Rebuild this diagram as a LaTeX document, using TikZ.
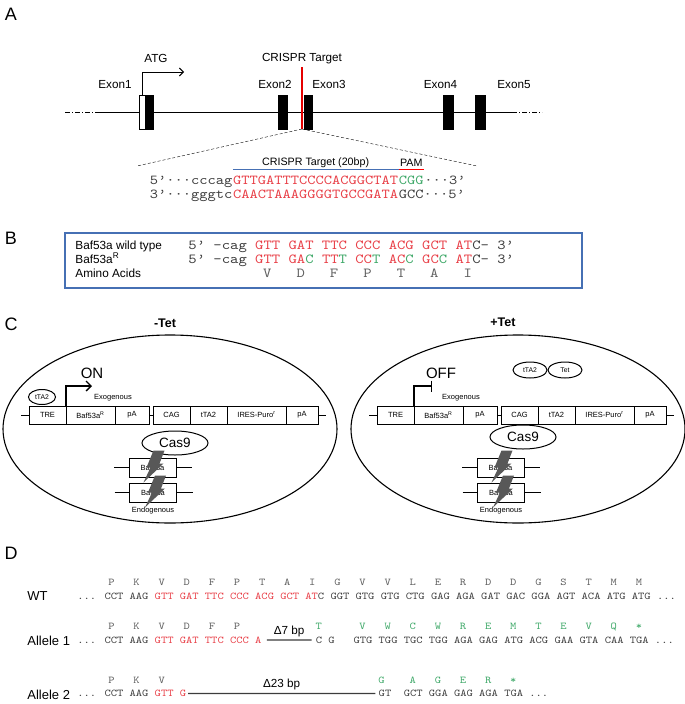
\documentclass[tikz,border=0pt]{standalone}
\usepackage{fontspec}
\setmainfont{Liberation Sans}
\newfontfamily\seqfont{lmmono10-regular.otf}[FakeStretch=1.15]
\usetikzlibrary{arrows.meta, positioning, shapes.geometric}

\definecolor{seqred}{RGB}{232,62,70}
\definecolor{seqgreen}{RGB}{62,168,104}
\definecolor{seqgray}{RGB}{60,60,60}
\definecolor{aagray}{RGB}{95,95,95}
\definecolor{pamblue}{RGB}{70,112,180}
\definecolor{boltgray}{RGB}{88,88,88}
\newcommand{\fs}[1]{\fontsize{#1}{#1}\selectfont}
\newcommand{\rseq}[1]{\textcolor{seqred}{#1}}
\newcommand{\gseq}[1]{\textcolor{seqgreen}{#1}}

\begin{document}
\begin{tikzpicture}[
    x=1pt, y=-1pt,            % pixel grid, y pointing down
    >=Latex,
    thick,
  ]

  %--- styles ---
  \tikzset{
    panelStyle/.style ={font=\fs{18}, inner sep=0pt},
    lblA/.style       ={font=\fs{11.7}, inner sep=0pt, text=black},
    lblS/.style       ={font=\fs{10.7}, inner sep=0pt, text=black},
    lblB/.style       ={font=\fs{11.8}, inner sep=0pt, anchor=base west},
    rowLbl/.style     ={font=\fs{13}, inner sep=0pt, anchor=base west},
    seqStyle/.style   ={font={\seqfont\fs{13.66}}, text=seqgray,
    inner sep=0pt, anchor=base west},
    seqB/.style       ={seqStyle, font={\seqfont\fs{13.83}}},
    aaB/.style        ={seqB, anchor=base, text=aagray},
    seqD/.style       ={seqStyle, font={\seqfont\fs{10.4}}},
    aaD/.style        ={seqD, anchor=base, text=aagray},
    exonStyle/.style  ={rectangle, fill=black, draw=black, thin,
    minimum width=8pt, minimum height=34pt, inner sep=0pt, outer sep=0pt},
    exonWhite/.style  ={exonStyle, fill=white, minimum width=6pt},
    geneEnd/.style    ={thin, dash pattern=on 5pt off 2pt on 1pt off 2pt},
    crLine/.style     ={red!90!black, line width=2.6pt},
    zoomLine/.style   ={thin, dash pattern=on 3pt off 2pt},
    boxB/.style       ={rectangle, draw=pamblue, line width=1.1pt,
    minimum width=517pt, minimum height=55pt, inner sep=0pt},
    cellStyle/.style  ={ellipse, draw=black, line width=1.1pt,
    minimum width=334pt, minimum height=188pt, inner sep=0pt},
    cBox/.style       ={rectangle, draw=black, line width=0.7pt,
    minimum height=18pt, inner sep=0pt, outer sep=0pt, font=\fs{7.5}},
    gBox/.style       ={cBox, minimum width=47pt, minimum height=19pt},
    ovalStyle/.style  ={ellipse, draw=black, line width=1pt, inner sep=0pt},
    smallTxt/.style   ={font=\fs{7.5}, inner sep=0pt},
    bigTxt/.style     ={font=\fs{15}, inner sep=0pt},
    tetTitle/.style   ={font=\bfseries\fs{12.5}, inner sep=0pt},
    onArrow/.style    ={line width=1.4pt,
    -{Straight Barb[length=5pt, width=10pt]}},
    offArrow/.style   ={line width=1.4pt, -{Bar[width=11pt]}},
    delLine/.style    ={line width=1.1pt, draw=seqgray},
    boltStyle/.style  ={fill=boltgray},
  }

  \useasboundingbox (0,0) rectangle (685,704);

  %------------------------------------------------------------------------------
  % A) gene model and CRISPR target
  %------------------------------------------------------------------------------
  \node[panelStyle] (labA) at (11,14) {A};

  \coordinate (geneL) at (65,112);
  \coordinate (geneS) at (97,112);
  \coordinate (geneE) at (512,112);
  \coordinate (geneR) at (542,112);
  \draw[geneEnd] (geneL) -- (geneS);
  \draw[thin] (geneS) -- (geneE);
  \draw[geneEnd] (geneE) -- (geneR);

  \node[exonWhite] (ex1w) at (142,112) {};
  \node[exonStyle] (ex1) [right=0pt of ex1w] {};
  \node[exonStyle, minimum width=9pt] (ex2) at (282.5,112) {};
  \node[exonStyle] (ex3) at (308,112) {};
  \node[exonStyle, minimum width=10pt] (ex4) at (448,112) {};
  \node[exonStyle, minimum width=10pt] (ex5) at (480,112) {};

  \node[lblA] (ex1lbl) [above=6pt of ex1, xshift=-34pt] {Exon1};
  \node[lblA] (ex2lbl) [above=6pt of ex2, xshift=-7.5pt] {Exon2};
  \node[lblA] (ex3lbl) [above=6pt of ex3, xshift=21pt] {Exon3};
  \node[lblA] (ex4lbl) [above=6pt of ex4, xshift=-7.5pt] {Exon4};
  \node[lblA] (ex5lbl) [above=6pt of ex5, xshift=34pt] {Exon5};

  % start codon
  \coordinate (atgTip) at (184,72);
  \draw[line width=0.9pt, -{Straight Barb[length=4pt, width=8pt]}]
  (ex1w.north) |- (atgTip);
  \node[lblA] (atg) at (156,58) {ATG};

  % cut site
  \coordinate (crTop) at (302,67);
  \coordinate (crBot) at (302,129);
  \draw[crLine] (crTop) -- (crBot);
  \node[lblA] (crLbl) [above=3pt of crTop] {CRISPR Target};

  \coordinate (zoomL) at (137,166);
  \coordinate (zoomR) at (477,166);
  \draw[zoomLine] (crBot) -- (zoomL);
  \draw[zoomLine] (crBot) -- (zoomR);

  % target sequence
  \node[seqStyle] (s1a) at (149.5,184.7) {5’···cccag};
  \node[seqStyle, text=seqred] (s1b) at (s1a.base east) {GTTGATTTCCCCACGGCTAT};
  \node[seqStyle, text=seqgreen] (s1c) at (s1b.base east) {CGG};
  \node[seqStyle] (s1d) at (s1c.base east) {···3’};

  \node[seqStyle] (s2a) at (149.5,198.2) {3’···gggtc};
  \node[seqStyle, text=seqred] (s2b) at (s2a.base east) {CAACTAAAGGGGTGCCGATA};
  \node[seqStyle] (s2c) at (s2b.base east) {GCC···5’};

  \draw[pamblue, line width=1.3pt] ([yshift=6pt]s1b.north west)
  -- node[lblS, above=1.5pt] (tgtLbl) {CRISPR Target (20bp)}
  ([yshift=6pt]s1b.north east);
  \draw[red, line width=1.3pt] ([yshift=6pt]s1c.north west)
  -- node[lblS, above=3pt] (pamLbl) {PAM}
  ([yshift=6pt]s1c.north east);

  %------------------------------------------------------------------------------
  % B) silent mutations of the rescue allele
  %------------------------------------------------------------------------------
  \node[panelStyle] (labB) at (11,238) {B};
  \node[boxB] (frameB) at (323.5,260.5) {};

  \node[lblB] (wtName)  at (75,249.2) {Baf53a wild type};
  \node[lblB] (resName) at (75,263.2) {Baf53a\textsuperscript{R}};
  \node[lblB] (aaName)  at (75,277.2) {Amino Acids};

  \node[seqB] (wtB) at (188,249.2)
  {5’ -cag \rseq{GTT GAT TTC CCC ACG GCT AT}C- 3’};
  \node[seqB] (resB) at (188,263.2)
  {5’ -cag \rseq{GTT GA}\gseq{C}\rseq{~TT}\gseq{T}\rseq{~CC}\gseq{T}\rseq{~AC}\gseq{C}\rseq{~GC}\gseq{C}\rseq{~AT}C- 3’};
  \foreach \a [count=\k from 0] in {V,D,F,P,T,A,I}
  \node[aaB] (aaB\k) at ({254.8+(4*\k+1.5)*8.35},277.2) {\a};

  %------------------------------------------------------------------------------
  % C) Tet-off rescue in the cell, -Tet (left) and +Tet (right)
  %------------------------------------------------------------------------------
  \node[panelStyle] (labC) at (11,324) {C};
  \node[tetTitle] (minusTet) at (165,323) {-Tet};
  \node[tetTitle] (plusTet)  at (503,322) {+Tet};

  \foreach \s/\dx/\cy in {L/0/443, R/348/437} {
    \node[cellStyle] (cell\s) at (170+\dx,429) {};

    % exogenous construct
    \node[cBox, minimum width=37pt] (tre\s) at (47.5+\dx,415) {TRE};
    \node[cBox, minimum width=49pt] (baf\s) [right=0pt of tre\s]
    {Baf53a\textsuperscript{R}};
    \node[cBox, minimum width=34pt] (pa\s)  [right=0pt of baf\s] {pA};
    \node[cBox, minimum width=37pt] (cag\s) [right=4pt of pa\s] {CAG};
    \node[cBox, minimum width=37pt] (tta\s) [right=0pt of cag\s] {tTA2};
    \node[cBox, minimum width=59pt] (ires\s) [right=0pt of tta\s]
    {IRES-Puro\textsuperscript{r}};
    \node[cBox, minimum width=32pt] (pb\s)  [right=0pt of ires\s] {pA};
    \coordinate[left=8pt of tre\s] (tailL\s);
    \coordinate[right=8pt of pb\s] (tailR\s);
    \draw[line width=0.7pt] (tailL\s) -- (tre\s);
    \draw[line width=0.7pt] (pa\s) -- (cag\s);
    \draw[line width=0.7pt] (pb\s) -- (tailR\s);
    \node[smallTxt] (exo\s) at ([xshift=47pt, yshift=8pt]baf\s.north west)
    {Exogenous};

    % Cas9 and the endogenous alleles
    \node[ovalStyle, minimum width=66pt, minimum height=24pt, font=\fs{13.5}]
    (cas\s) at (175+\dx,\cy) {Cas9};
    \node[gBox] (gA\s) at (152.5+\dx,467.5) {Baf53a};
    \node[gBox] (gB\s) at (153+\dx,492.5) {Baf53a};
    \coordinate[left=15pt of gA\s] (gAl\s);
    \coordinate[right=16pt of gA\s] (gAr\s);
    \coordinate[left=15pt of gB\s] (gBl\s);
    \coordinate[right=16pt of gB\s] (gBr\s);
    \draw[line width=0.7pt] (gAl\s) -- (gA\s) -- (gAr\s);
    \draw[line width=0.7pt] (gBl\s) -- (gB\s) -- (gBr\s);
    \node[smallTxt] (endo\s) [below=5pt of gB\s] {Endogenous};

    % cuts
    \fill[boltStyle] ([shift={(1,-17)}]gA\s.center) -- ++(11,0) -- ++(-5,13)
    -- ++(4,0) -- ++(-20,19) -- ++(7,-15) -- ++(-4,0) -- cycle;
    \fill[boltStyle] ([shift={(2,-17)}]gB\s.center) -- ++(11,0) -- ++(-5,13)
    -- ++(4,0) -- ++(-20,19) -- ++(7,-15) -- ++(-4,0) -- cycle;
  }

  % -Tet: tTA2 binds TRE, expression on
  \node[ovalStyle, minimum width=27pt, minimum height=15pt, font=\fs{6.8}]
  (tta2L) [above=1pt of treL, xshift=-5.5pt] {tTA2};
  \coordinate (onTip) at (92,386);
  \draw[onArrow] (bafL.north west) |- (onTip);
  \node[bigTxt] (onLbl) [above=7pt of onTip] {ON};

  % +Tet: tTA2 held by Tet, expression off
  \node[ovalStyle, minimum width=34pt, minimum height=16pt, font=\fs{6.8}]
  (tta2R) at (530,370) {tTA2};
  \node[ovalStyle, minimum width=34pt, minimum height=16pt, font=\fs{6.8}]
  (tet) [right=0pt of tta2R] {Tet};
  \coordinate (offBar) at (432,386);
  \draw[offArrow] (bafR.north west) |- (offBar);
  \node[bigTxt] (offLbl) [above=7pt of offBar, xshift=9pt] {OFF};

  %------------------------------------------------------------------------------
  % D) alleles of the knockout clone
  %------------------------------------------------------------------------------
  \node[panelStyle] (labD) at (11,553) {D};

  \node[rowLbl] (wtRow) at (27,600.5) {WT};
  \node[rowLbl] (a1Row) at (27,645.5) {Allele 1};
  \node[rowLbl] (a2Row) at (27,699) {Allele 2};

  % WT
  \node[seqD] (wtSeq) at (76.9,599.2)
  {... CCT AAG \rseq{GTT GAT TTC CCC ACG GCT AT}C GGT GTG GTG CTG GAG AGA GAT GAC GGA AGT ACA ATG ATG ...};
  \foreach \a [count=\k from 0] in {P,K,V,D,F,P,T,A,I,G,V,V,L,E,R,D,D,G,S,T,M,M}
  \node[aaD] (wtAa\k) at ({102+(4*\k+1.5)*6.28},585.2) {\a};

  % Allele 1
  \node[seqD] (a1Seq) at (76.9,643.2) {... CCT AAG \rseq{GTT GAT TTC CCC A}};
  \node[seqD] (a1Mid) at ({102+34*6.28},643.2) {C G};
  \node[seqD] (a1End) at ({102+40*6.28},643.2)
  {GTG TGG TGC TGG AGA GAG ATG ACG GAA GTA CAA TGA ...};
  \draw[delLine] ([xshift=5pt]a1Seq.east)
  -- node[lblA, above=3pt] (del7) {Δ7 bp} ([xshift=-4pt]a1Mid.west);
  \foreach \a [count=\k from 0] in {P,K,V,D,F,P}
  \node[aaD] (a1Aa\k) at ({102+(4*\k+1.5)*6.28},629.2) {\a};
  \node[aaD, text=seqgreen] (a1AaT) at ({102+34.5*6.28},629.2) {T};
  \foreach \a [count=\k from 10] in {V,W,C,W,R,E,M,T,E,V,Q,*}
  \node[aaD, text=seqgreen] (a1Aa\k) at ({102+(4*\k+1.5)*6.28},629.2) {\a};

  % Allele 2
  \node[seqD] (a2Seq) at (76.9,696.7) {... CCT AAG \rseq{GTT G}};
  \node[seqD] (a2Mid) at ({102+44*6.28},696.7) {GT};
  \node[seqD] (a2End) at ({102+48*6.28},696.7) {GCT GGA GAG AGA TGA ...};
  \draw[delLine] ([xshift=1.5pt]a2Seq.east)
  -- node[lblA, above=3pt] (del23) {Δ23 bp} ([xshift=-3pt]a2Mid.west);
  \foreach \a [count=\k from 0] in {P,K,V}
  \node[aaD] (a2Aa\k) at ({102+(4*\k+1.5)*6.28},683.2) {\a};
  \node[aaD, text=seqgreen] (a2AaG) at ({102+44.5*6.28},683.2) {G};
  \foreach \a [count=\k from 12] in {A,G,E,R,*}
  \node[aaD, text=seqgreen] (a2Aa\k) at ({102+(4*\k+1.5)*6.28},683.2) {\a};

\end{tikzpicture}
\end{document}
